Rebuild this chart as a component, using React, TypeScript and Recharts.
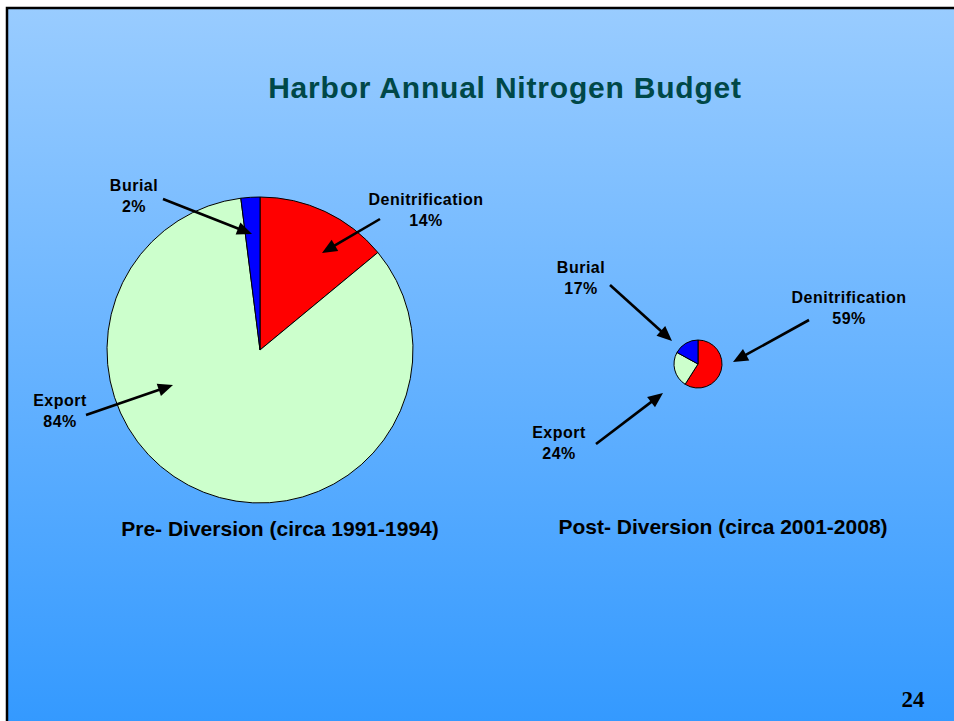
import React from "react";
import { PieChart, Pie, Cell } from "recharts";

// ---- data ----
const components = ["Denitrification", "Export", "Burial"];
const preValues = [14, 84, 2];
const postValues = [59, 24, 17];
const periodTitles = ["Pre- Diversion (circa 1991-1994)", "Post- Diversion (circa 2001-2008)"];
const chartTitle = "Harbor Annual Nitrogen Budget";
const slideNumber = "24";

// ---- styles / layout (not data) ----
const sliceColors = ["#FF0000", "#CCFFCC", "#0000FF"];
const W = 954;
const H = 721;

type Ann = { lx: number; ly: number; x1: number; y1: number; x2: number; y2: number };
// annotation layout per slice (order matches components)
const preAnn: Ann[] = [
  { lx: 426, ly: 205, x1: 380, y1: 219, x2: 322, y2: 253 },
  { lx: 60, ly: 406, x1: 86, y1: 415, x2: 173, y2: 385 },
  { lx: 134, ly: 191, x1: 163, y1: 199, x2: 252, y2: 234 },
];
const postAnn: Ann[] = [
  { lx: 849, ly: 303, x1: 809, y1: 320, x2: 733, y2: 362 },
  { lx: 559, ly: 438, x1: 596, y1: 444, x2: 663, y2: 393 },
  { lx: 581, ly: 273, x1: 610, y1: 285, x2: 672, y2: 341 },
];

const preData = components.map((name, i) => ({ name, value: preValues[i] }));
const postData = components.map((name, i) => ({ name, value: postValues[i] }));

const labelFont: React.CSSProperties = {
  fontFamily: "'Liberation Sans', Arial, sans-serif",
  fontWeight: 700,
  fontSize: 16,
  letterSpacing: 0.5,
};

function Arrow({ a }: { a: Ann }) {
  const dx = a.x2 - a.x1;
  const dy = a.y2 - a.y1;
  const len = Math.sqrt(dx * dx + dy * dy);
  const ux = dx / len;
  const uy = dy / len;
  const hl = 15;
  const hw = 6.5;
  const bx = a.x2 - ux * hl;
  const by = a.y2 - uy * hl;
  const pts = [
    [a.x2, a.y2],
    [bx - uy * hw, by + ux * hw],
    [bx + uy * hw, by - ux * hw],
  ]
    .map((p) => p.join(","))
    .join(" ");
  return (
    <g>
      <line x1={a.x1} y1={a.y1} x2={bx + ux * 2} y2={by + uy * 2} stroke="#000" strokeWidth={2.6} />
      <polygon points={pts} fill="#000" />
    </g>
  );
}

function Labels({ data, ann }: { data: { name: string; value: number }[]; ann: Ann[] }) {
  return (
    <g>
      {data.map((d, i) => (
        <g key={d.name}>
          <text x={ann[i].lx} y={ann[i].ly} textAnchor="middle" style={labelFont} fill="#000">
            {d.name}
          </text>
          <text x={ann[i].lx} y={ann[i].ly + 21} textAnchor="middle" style={labelFont} fill="#000">
            {d.value + "%"}
          </text>
          <Arrow a={ann[i]} />
        </g>
      ))}
    </g>
  );
}

export default function App() {
  return (
    <div style={{ position: "absolute", left: 0, top: 0, width: W, height: H, background: "#fff", overflow: "hidden" }}>
      <svg width={W} height={H} style={{ position: "absolute", left: 0, top: 0 }}>
        <defs>
          <linearGradient id="bg" x1="0" y1="0" x2="0" y2="1">
            <stop offset="0%" stopColor="#99CCFF" />
            <stop offset="100%" stopColor="#3399FF" />
          </linearGradient>
        </defs>
        <rect x={7} y={8} width={W} height={H} fill="url(#bg)" stroke="#000" strokeWidth={2.5} />
      </svg>
      <div style={{ position: "absolute", left: 0, top: 0 }}>
        <PieChart width={W} height={H} margin={{ top: 0, right: 0, bottom: 0, left: 0 }}>
          <Pie
            data={preData}
            dataKey="value"
            nameKey="name"
            cx={260}
            cy={350}
            outerRadius={153}
            innerRadius={0}
            startAngle={90}
            endAngle={-270}
            stroke="#000"
            strokeWidth={1}
            isAnimationActive={false}
          >
            {preData.map((d, i) => (
              <Cell key={d.name} fill={sliceColors[i]} />
            ))}
          </Pie>
          <Pie
            data={postData}
            dataKey="value"
            nameKey="name"
            cx={698}
            cy={364}
            outerRadius={24}
            innerRadius={0}
            startAngle={90}
            endAngle={-270}
            stroke="#000"
            strokeWidth={1}
            isAnimationActive={false}
          >
            {postData.map((d, i) => (
              <Cell key={d.name} fill={sliceColors[i]} />
            ))}
          </Pie>
        </PieChart>
      </div>
      <svg width={W} height={H} style={{ position: "absolute", left: 0, top: 0, pointerEvents: "none" }}>
        <text
          x={505}
          y={98}
          textAnchor="middle"
          fill="#004848"
          style={{ fontFamily: "'Liberation Sans', Arial, sans-serif", fontWeight: 700, fontSize: 30, letterSpacing: 0.8 }}
        >
          {chartTitle}
        </text>
        <Labels data={preData} ann={preAnn} />
        <Labels data={postData} ann={postAnn} />
        <text
          x={280}
          y={536}
          textAnchor="middle"
          fill="#000"
          style={{ fontFamily: "'Liberation Sans', Arial, sans-serif", fontWeight: 700, fontSize: 21 }}
        >
          {periodTitles[0]}
        </text>
        <text
          x={723}
          y={534}
          textAnchor="middle"
          fill="#000"
          style={{ fontFamily: "'Liberation Sans', Arial, sans-serif", fontWeight: 700, fontSize: 21 }}
        >
          {periodTitles[1]}
        </text>
        <text
          x={913}
          y={707}
          textAnchor="middle"
          fill="#000"
          style={{ fontFamily: "'Liberation Serif', 'Times New Roman', serif", fontWeight: 700, fontSize: 23 }}
        >
          {slideNumber}
        </text>
      </svg>
    </div>
  );
}
